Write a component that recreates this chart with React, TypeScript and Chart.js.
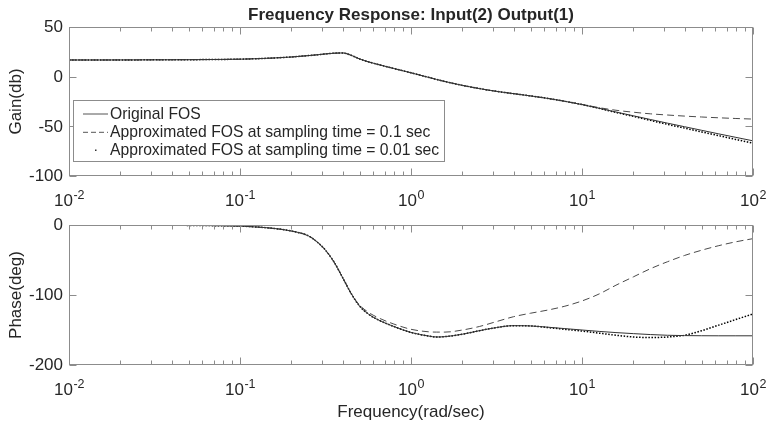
import React, { useEffect, useRef } from 'react';
import { Chart, registerables } from 'chart.js';

Chart.register(...registerables);

// ---------- data ----------
const FREQ = [
  0.01, 0.0158, 0.0251, 0.0398, 0.0631, 0.1, 0.126, 0.158, 0.2, 0.251, 0.282, 0.316, 0.355, 0.398,
  0.447, 0.501, 0.562, 0.631, 0.794, 1, 1.26, 1.41, 1.58, 2.0, 2.51, 3.16, 3.98, 5.01, 6.31, 7.94,
  10, 12.6, 15.8, 20.0, 25.1, 31.6, 39.8, 50.1, 63.1, 79.4, 100,
];

const GAIN_ORIGINAL = [
  16.8, 16.8, 16.9, 17.0, 17.2, 17.6, 18.1, 18.8, 19.8, 21.2, 22.0, 22.9, 23.6, 23.9,
  21.5, 17.8, 15.0, 12.6, 8.2, 3.9, -0.6, -2.8, -4.9, -8.8, -12.0, -14.8, -17.1, -19.4, -21.9, -24.8,
  -28.1, -31.8, -35.6, -39.4, -43.1, -46.8, -50.4, -54.0, -57.6, -61.1, -64.6,
];
const GAIN_APPROX_01 = [
  16.8, 16.8, 16.9, 17.0, 17.2, 17.6, 18.1, 18.8, 19.8, 21.2, 22.0, 22.9, 23.6, 23.9,
  21.5, 17.8, 15.0, 12.6, 8.2, 3.9, -0.6, -2.8, -4.9, -8.8, -12.0, -14.8, -17.1, -19.4, -21.9, -24.8,
  -27.9, -31.2, -33.8, -35.8, -37.4, -38.6, -39.7, -40.6, -41.4, -42.1, -42.7,
];
const GAIN_APPROX_001 = [
  16.8, 16.8, 16.9, 17.0, 17.2, 17.6, 18.1, 18.8, 19.8, 21.2, 22.0, 22.9, 23.6, 23.9,
  21.5, 17.8, 15.0, 12.6, 8.2, 3.9, -0.6, -2.8, -4.9, -8.8, -12.0, -14.8, -17.1, -19.4, -21.9, -24.8,
  -28.1, -31.9, -36.0, -40.0, -44.0, -48.0, -51.8, -55.6, -59.4, -63.2, -67.0,
];

const PHASE_ORIGINAL = [
  0, -0.1, -0.2, -0.4, -0.8, -1.6, -2.9, -4.9, -8.6, -15.5, -24, -36, -53, -75,
  -98, -116, -127, -134.5, -145, -153.5, -158.5, -160, -159.5, -156, -151, -146.5, -143.8, -144.2, -146, -148,
  -150, -152, -153.7, -155.2, -156.5, -157.5, -158, -158.2, -158.3, -158.3, -158.3,
];
const PHASE_APPROX_01 = [
  0, -0.1, -0.2, -0.4, -0.8, -1.6, -2.9, -4.9, -8.6, -15.5, -24, -36, -53, -75,
  -98, -114.5, -124.5, -131.5, -141.5, -149, -152.5, -153, -153, -150, -145, -138, -131, -126, -121.5, -116,
  -108.5, -98.5, -86, -74, -62.5, -52.5, -43.5, -36, -29.5, -24, -19.5,
];
const PHASE_APPROX_001 = [
  0, -0.1, -0.2, -0.4, -0.8, -1.6, -2.9, -4.9, -8.6, -15.5, -24, -36, -53, -75,
  -98, -116, -127, -134.5, -145, -153.5, -158.5, -160, -159.5, -156, -151, -146.5, -143.8, -144.2, -146.5, -149,
  -151.5, -154.5, -157.5, -160, -160.8, -160, -157.5, -151, -143, -135, -127,
];

const SERIES_LABELS = [
  'Original FOS',
  'Approximated FOS at sampling time = 0.1 sec',
  'Approximated FOS at sampling time = 0.01 sec',
];

const X_MAJOR = [0.01, 0.1, 1, 10, 100];
const X_EXPONENTS = ['-2', '-1', '0', '1', '2'];
const X_MINOR_MULT = [2, 3, 4, 5, 6, 7, 8, 9];
const GAIN_TICKS = [50, 0, -50, -100];
const PHASE_TICKS = [0, -100, -200];

const TITLE = 'Frequency Response: Input(2) Output(1)';
const GAIN_LABEL = 'Gain(db)';
const PHASE_LABEL = 'Phase(deg)';
const X_LABEL = 'Frequency(rad/sec)';

// ---------- styling ----------
const FONT = "'Liberation Sans', Arial, Helvetica, sans-serif";
const TEXT = '#262626';
const AXIS = '#8c8c8c';

const STYLES = [
  { color: '#333333', width: 1, dash: [] as number[] },
  { color: '#4a4a4a', width: 1, dash: [7, 4] },
  { color: '#000000', width: 1.5, dash: [1.5, 1.6] },
];

function drawPow(ctx: CanvasRenderingContext2D, x: number, baseline: number, exp: string) {
  ctx.font = `17px ${FONT}`;
  const w1 = ctx.measureText('10').width;
  ctx.font = `12.5px ${FONT}`;
  const w2 = ctx.measureText(exp).width;
  const start = x - (w1 + w2) / 2;
  ctx.textAlign = 'left';
  ctx.textBaseline = 'alphabetic';
  ctx.font = `17px ${FONT}`;
  ctx.fillText('10', start, baseline);
  ctx.font = `12.5px ${FONT}`;
  ctx.fillText(exp, start + w1 + 0.5, baseline - 7);
}

const bodePlugin = {
  id: 'bodeAxes',
  afterDraw(chart: any, _args: any, o: any) {
    const ctx: CanvasRenderingContext2D = chart.ctx;
    const a = chart.chartArea;
    const xs = chart.scales.x;
    const ys = chart.scales.y;
    const L = Math.round(a.left) + 0.5;
    const R = Math.round(a.right) - 0.5;
    const T = Math.round(a.top) + 0.5;
    const B = Math.round(a.bottom) - 0.5;
    ctx.save();
    // box
    ctx.strokeStyle = AXIS;
    ctx.lineWidth = 1;
    ctx.setLineDash([]);
    ctx.strokeRect(L, T, R - L, B - T);
    // ticks
    ctx.beginPath();
    X_MAJOR.forEach((v) => {
      const px = Math.round(xs.getPixelForValue(v)) + 0.5;
      ctx.moveTo(px, B); ctx.lineTo(px, B - 7);
      ctx.moveTo(px, T); ctx.lineTo(px, T + 7);
    });
    X_MAJOR.slice(0, -1).forEach((d) => {
      X_MINOR_MULT.forEach((k) => {
        const px = Math.round(xs.getPixelForValue(d * k)) + 0.5;
        ctx.moveTo(px, B); ctx.lineTo(px, B - 4);
        ctx.moveTo(px, T); ctx.lineTo(px, T + 4);
      });
    });
    (o.yTicks as number[]).forEach((v) => {
      const py = Math.round(ys.getPixelForValue(v)) + 0.5;
      ctx.moveTo(L, py); ctx.lineTo(L + 7, py);
      ctx.moveTo(R, py); ctx.lineTo(R - 7, py);
    });
    ctx.stroke();

    // y tick labels
    ctx.fillStyle = TEXT;
    ctx.font = `17px ${FONT}`;
    ctx.textAlign = 'right';
    ctx.textBaseline = 'middle';
    (o.yTicks as number[]).forEach((v) => {
      ctx.fillText(String(v), a.left - 6, ys.getPixelForValue(v) + 0.5);
    });
    // x tick labels
    X_MAJOR.forEach((v, i) => drawPow(ctx, xs.getPixelForValue(v), a.bottom + 30, X_EXPONENTS[i]));

    // y axis title
    ctx.save();
    ctx.translate(16.5, (a.top + a.bottom) / 2);
    ctx.rotate(-Math.PI / 2);
    ctx.font = `17px ${FONT}`;
    ctx.textAlign = 'center';
    ctx.textBaseline = 'middle';
    ctx.fillText(o.yLabel, 0, 0);
    ctx.restore();

    const cx = (a.left + a.right) / 2;
    if (o.title) {
      ctx.font = `bold 17px ${FONT}`;
      ctx.textAlign = 'center';
      ctx.textBaseline = 'alphabetic';
      ctx.fillText(o.title, cx, 19.5);
    }
    if (o.xLabel) {
      ctx.font = `17px ${FONT}`;
      ctx.textAlign = 'center';
      ctx.textBaseline = 'alphabetic';
      ctx.fillText(o.xLabel, cx, a.bottom + 52);
    }

    // legend
    if (o.legend) {
      const lx = a.left + 4.5;
      const ly = 100.5;
      const lw = 371;
      const lh = 61;
      ctx.fillStyle = '#ffffff';
      ctx.fillRect(lx, ly, lw, lh);
      ctx.strokeStyle = AXIS;
      ctx.lineWidth = 1;
      ctx.strokeRect(lx, ly, lw, lh);
      const rows = [113.5, 131.8, 150];
      chart.data.datasets.forEach((ds: any, i: number) => {
        const y = rows[i];
        ctx.strokeStyle = '#555555';
        ctx.fillStyle = '#333333';
        ctx.lineWidth = 1;
        if (i === 2) {
          ctx.fillRect(95, y - 0.5, 1.5, 1.5);
        } else {
          ctx.setLineDash(i === 1 ? [5, 3] : []);
          ctx.beginPath();
          ctx.moveTo(83, y + 0.5);
          ctx.lineTo(108, y + 0.5);
          ctx.stroke();
          ctx.setLineDash([]);
        }
        ctx.fillStyle = TEXT;
        ctx.font = `15.7px ${FONT}`;
        ctx.textAlign = 'left';
        ctx.textBaseline = 'middle';
        ctx.fillText(ds.label, 110, y + 1);
      });
    }
    ctx.restore();
  },
};

function makeConfig(series: number[][], yMin: number, yMax: number, padding: any, pluginOpts: any): any {
  return {
    type: 'line',
    data: {
      datasets: series.map((arr, i) => ({
        label: SERIES_LABELS[i],
        data: FREQ.map((f, j) => ({ x: f, y: arr[j] })),
        borderColor: STYLES[i].color,
        borderWidth: STYLES[i].width,
        borderDash: STYLES[i].dash,
        pointRadius: 0,
        fill: false,
        cubicInterpolationMode: 'monotone',
      })),
    },
    options: {
      responsive: false,
      animation: false,
      events: [],
      layout: { padding },
      scales: {
        x: { type: 'logarithmic', min: 0.01, max: 100, display: false },
        y: { type: 'linear', min: yMin, max: yMax, display: false },
      },
      plugins: {
        legend: { display: false },
        title: { display: false },
        tooltip: { enabled: false },
        bodeAxes: pluginOpts,
      },
    },
    plugins: [bodePlugin],
  };
}

export default function App() {
  const topRef = useRef<HTMLCanvasElement>(null);
  const botRef = useRef<HTMLCanvasElement>(null);

  useEffect(() => {
    const c1 = new Chart(
      topRef.current as HTMLCanvasElement,
      makeConfig(
        [GAIN_ORIGINAL, GAIN_APPROX_01, GAIN_APPROX_001],
        -100,
        50,
        { left: 69, top: 27, right: 15, bottom: 254 },
        { yTicks: GAIN_TICKS, yLabel: GAIN_LABEL, title: TITLE, legend: true },
      ),
    );
    const c2 = new Chart(
      botRef.current as HTMLCanvasElement,
      makeConfig(
        [PHASE_ORIGINAL, PHASE_APPROX_01, PHASE_APPROX_001],
        -200,
        0,
        { left: 69, top: 225, right: 15, bottom: 65 },
        { yTicks: PHASE_TICKS, yLabel: PHASE_LABEL, xLabel: X_LABEL, legend: false },
      ),
    );
    return () => {
      c1.destroy();
      c2.destroy();
    };
  }, []);

  return (
    <div style={{ position: 'absolute', left: 0, top: 0, width: 768, height: 430, background: '#ffffff' }}>
      <canvas ref={topRef} width={768} height={430} style={{ position: 'absolute', left: 0, top: 0 }} />
      <canvas ref={botRef} width={768} height={430} style={{ position: 'absolute', left: 0, top: 0 }} />
    </div>
  );
}
